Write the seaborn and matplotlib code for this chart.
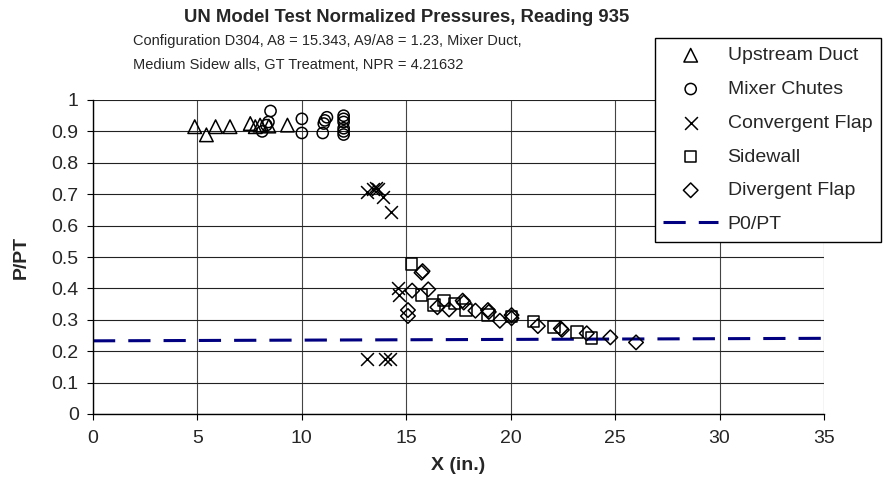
import matplotlib
matplotlib.use("Agg")
import matplotlib.pyplot as plt
import seaborn as sns
import pandas as pd

sns.set_theme(style="white")
plt.rcParams['font.family'] = ['Liberation Sans', 'DejaVu Sans']

upstream_x = [4.87, 5.43, 5.87, 6.56, 7.53, 7.77, 8.0, 8.42, 9.31]
upstream_y = [0.915, 0.889, 0.915, 0.915, 0.925, 0.915, 0.92, 0.917, 0.92]

mixer_x = [8.1, 8.3, 8.4, 8.5, 10.0, 10.0, 11.0, 11.05, 11.1, 11.2, 12.0, 12.0, 12.0, 12.0, 12.0, 12.0]
mixer_y = [0.90, 0.92, 0.93, 0.965, 0.94, 0.895, 0.895, 0.925, 0.935, 0.945, 0.95, 0.94, 0.93, 0.91, 0.90, 0.89]

convergent_x = [13.1, 13.4, 13.55, 13.65, 13.9, 14.25, 14.6, 14.65, 13.1, 14.0, 14.2]
convergent_y = [0.708, 0.717, 0.72, 0.715, 0.69, 0.642, 0.40, 0.38, 0.175, 0.175, 0.175]

sidewall_x = [15.25, 15.73, 16.33, 16.81, 17.3, 17.86, 18.9, 20.04, 21.09, 22.08, 23.16, 23.87]
sidewall_y = [0.478, 0.379, 0.347, 0.361, 0.352, 0.331, 0.315, 0.31, 0.294, 0.277, 0.262, 0.243]

divergent_x = [15.08, 15.08, 15.28, 15.73, 15.78, 16.05, 16.49, 17.05, 17.7, 17.75, 18.31, 18.91,
               18.95, 19.48, 20.04, 20.04, 21.3, 22.4, 22.45, 23.64, 24.77, 26.0]
divergent_y = [0.331, 0.312, 0.393, 0.45, 0.455, 0.397, 0.34, 0.333, 0.361, 0.355, 0.329, 0.331,
               0.325, 0.297, 0.315, 0.305, 0.28, 0.272, 0.268, 0.257, 0.244, 0.228]

p0_x = [0, 35]
p0_y = [0.233, 0.241]

x_ticks = [0, 5, 10, 15, 20, 25, 30, 35]
y_ticks = [0, 0.1, 0.2, 0.3, 0.4, 0.5, 0.6, 0.7, 0.8, 0.9, 1]
y_ticklabels = ['0', '0.1', '0.2', '0.3', '0.4', '0.5', '0.6', '0.7', '0.8', '0.9', '1']

fig = plt.figure(figsize=(8.83, 4.88), dpi=100)
ax = fig.add_axes([93/883, 74/488, (824-93)/883, (414-100)/488])

# grid
for xv in x_ticks:
    ax.axvline(xv, color='#444444', lw=0.8, zorder=0)
for yv in y_ticks:
    ax.axhline(yv, color='#222222', lw=0.8, zorder=0)

mk = dict(facecolors='none', edgecolors='black', linewidth=1.1, ax=ax, zorder=3)
sns.scatterplot(x=upstream_x, y=upstream_y, marker='^', s=95, label='Upstream Duct', **mk)
sns.scatterplot(x=mixer_x, y=mixer_y, marker='o', s=65, label='Mixer Chutes', **mk)
sns.scatterplot(x=convergent_x, y=convergent_y, marker='x', s=85, color='black',
                linewidth=1.1, label='Convergent Flap', ax=ax, zorder=3)
sns.scatterplot(x=sidewall_x, y=sidewall_y, marker='s', s=70, label='Sidewall', **mk)
sns.scatterplot(x=divergent_x, y=divergent_y, marker='D', s=55, label='Divergent Flap', **mk)
sns.lineplot(x=p0_x, y=p0_y, color='#000080', lw=2.2, dashes=False, ax=ax,
             label='P0/PT', zorder=2)
ax.lines[-1].set_dashes([16/2.2, 9.4/2.2])

ax.set_xlim(0, 35)
ax.set_ylim(0, 1)
ax.set_xticks(x_ticks)
ax.set_xticklabels([str(v) for v in x_ticks])
ax.set_yticks(y_ticks)
ax.set_yticklabels(y_ticklabels)
ax.tick_params(axis='both', direction='out', length=4.3, width=0.8, color='black',
               labelsize=14, bottom=True, left=True)
ax.tick_params(axis='x', pad=7.5)
ax.tick_params(axis='y', pad=6)
for side in ['top', 'right']:
    ax.spines[side].set_visible(False)
for side in ['left', 'bottom']:
    ax.spines[side].set_color('black')
    ax.spines[side].set_linewidth(1.0)

ax.set_xlabel('X (in.)', fontsize=14, fontweight='bold')
ax.set_ylabel('P/PT', fontsize=14, fontweight='bold')
ax.xaxis.set_label_coords(0.5, (414 - 466) / 314)
ax.xaxis.label.set_va('center')
ax.yaxis.set_label_coords((21 - 93) / 731, 0.5)
ax.yaxis.label.set_va('center')
ax.yaxis.label.set_ha('center')

fig.text(407/883, 1 - 18/488, 'UN Model Test Normalized Pressures, Reading 935',
         ha='center', va='center', fontsize=13.3, fontweight='bold')
fig.text(133/883, 1 - 41/488, 'Configuration D304, A8 = 15.343, A9/A8 = 1.23, Mixer Duct,',
         ha='left', va='center', fontsize=10.5)
fig.text(133/883, 1 - 65/488, 'Medium Sidew alls, GT Treatment, NPR = 4.21632',
         ha='left', va='center', fontsize=10.5)

handles, labels = ax.get_legend_handles_labels()
leg = ax.legend(handles, labels, loc='upper right',
                bbox_to_anchor=(881/883, 1 - 38/488), bbox_transform=fig.transFigure,
                borderaxespad=0, frameon=True, fancybox=False, framealpha=1,
                edgecolor='black', fontsize=14, handlelength=2.8, labelspacing=0.83,
                borderpad=0.45, handletextpad=0.5, scatterpoints=1)
leg.get_frame().set_linewidth(1.0)

fig.savefig('out.png', dpi=100)
